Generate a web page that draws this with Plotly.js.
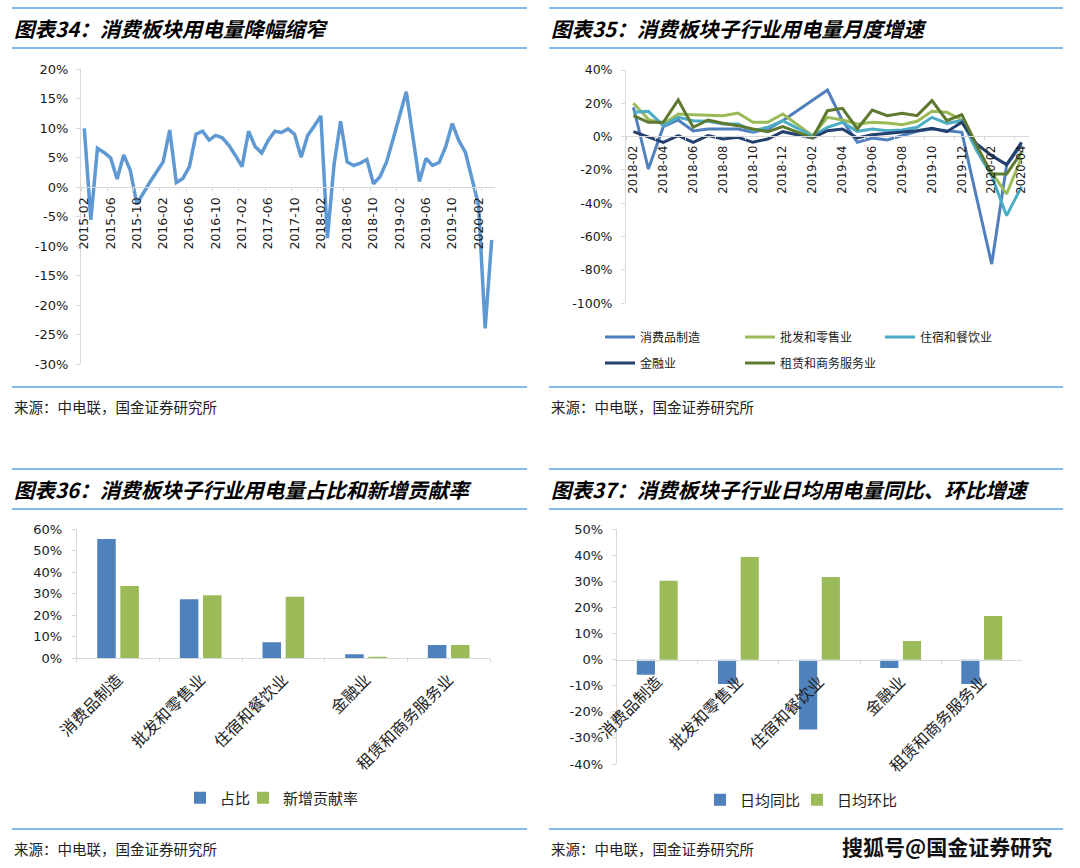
<!DOCTYPE html>
<html><head><meta charset="utf-8">
<script src="https://cdn.plot.ly/plotly-3.0.1.min.js"></script>
<style>html,body{margin:0;padding:0;background:#fff}#c{width:1080px;height:868px}</style>
</head><body><div id="c"></div><script>
// ---------- Panel 1: 消费板块用电量增速 ----------
const months1 = ['2015-02','2015-03','2015-04','2015-05','2015-06','2015-07','2015-08','2015-09','2015-10','2015-11','2015-12',
'2016-01','2016-02','2016-03','2016-04','2016-05','2016-06','2016-07','2016-08','2016-09','2016-10','2016-11','2016-12',
'2017-01','2017-02','2017-03','2017-04','2017-05','2017-06','2017-07','2017-08','2017-09','2017-10','2017-11','2017-12',
'2018-01','2018-02','2018-03','2018-04','2018-05','2018-06','2018-07','2018-08','2018-09','2018-10','2018-11','2018-12',
'2019-01','2019-02','2019-03','2019-04','2019-05','2019-06','2019-07','2019-08','2019-09','2019-10','2019-11','2019-12',
'2020-01','2020-02','2020-03','2020-04'];
const total1 = [10.0,-5.5,6.6,5.9,5.0,1.4,5.5,2.9,-2.8,-0.9,0.9,
2.6,4.3,9.7,0.8,1.5,3.5,9.0,9.5,8.0,8.8,8.4,7.1,
5.4,3.5,9.5,6.9,5.8,8.0,9.5,9.3,9.9,9.0,5.1,8.8,
10.4,12.1,-8.6,3.8,11.2,4.3,3.7,4.1,4.7,0.6,1.8,4.3,
8.2,12.4,16.2,8.6,1.0,4.9,3.7,4.2,6.9,10.8,7.9,5.9,
1.5,-3.0,-23.9,-8.9];
const ticks1x = ['2015-02','2015-06','2015-10','2016-02','2016-06','2016-10','2017-02','2017-06','2017-10',
'2018-02','2018-06','2018-10','2019-02','2019-06','2019-10','2020-02'];
const ticks1y = [20,15,10,5,0,-5,-10,-15,-20,-25,-30];

// ---------- Panel 2: 子行业用电量月度增速 ----------
const months2 = ['2018-02','2018-03','2018-04','2018-05','2018-06','2018-07','2018-08','2018-09','2018-10','2018-11','2018-12',
'2019-01','2019-02','2019-03','2019-04','2019-05','2019-06','2019-07','2019-08','2019-09','2019-10','2019-11','2019-12',
'2020-01','2020-02','2020-03','2020-04'];
const manu2   = [17.6,-19.4,6,10,3.4,4.6,4.6,4.6,2.6,4.6,9.6,null,null,28,9.6,-3.4,-0.8,-2,0.6,3.2,4.6,3.6,2.6,-37,-76.5,-17,-5];
const retail2 = [20,10.4,7.6,13.6,13.2,13,12.6,14.2,8.6,8.6,13.6,null,0.6,11.6,10,7.6,8.6,8.2,7.2,9.2,15.2,14.6,10,-7.4,-21.4,-34.4,-12.4];
const hotel2  = [14.6,15.2,6.6,11.6,9.6,9.2,7.6,7.6,3.6,5.6,9.6,null,0.4,5.6,8.6,3.2,4.6,3.6,4,5.6,11.6,8,9.6,-8.4,-23.4,-47.4,-30];
const fin2    = [3,0,-3.4,0.6,-3.4,0.6,-1.4,-0.4,-3.4,-1.4,3,null,-0.8,3.6,4.6,-0.8,1.2,2,3.2,3.6,5,3,8.6,-4.4,-11.4,-16.8,-3.4];
const lease2  = [12.6,8.6,8.6,22,5.6,10,8,6.6,4.6,3,6,null,-0.8,15.6,17,4.6,16,12.6,14,12.6,21.6,9.6,13.2,-5.4,-22.4,-22.4,-9.4];
const ticks2x = ['2018-02','2018-04','2018-06','2018-08','2018-10','2018-12','2019-02','2019-04','2019-06','2019-08',
'2019-10','2019-12','2020-02','2020-04'];
const ticks2y = [40,20,0,-20,-40,-60,-80,-100];
const names2 = ['消费品制造','批发和零售业','住宿和餐饮业','金融业','租赁和商务服务业'];

// ---------- Panel 3 / 4 ----------
const cats = ['消费品制造','批发和零售业','住宿和餐饮业','金融业','租赁和商务服务业'];
const share3 = [55.5,27.4,7.3,1.7,6.1];
const contrib3 = [33.6,29.2,28.6,0.6,6.1];
const ticks3y = [0,10,20,30,40,50,60];
const yoy4 = [-5.8,-9.3,-26.8,-3.2,-9.3];
const mom4 = [30.3,39.4,31.7,7.2,16.8];
const ticks4y = [50,40,30,20,10,0,-10,-20,-30,-40];

const NUM = 'DejaVu Sans';
const CJK = 'Noto Sans CJK SC';
const W = 1080, H = 868;
const px = x => x / W, py = y => 1 - y / H;
const pct = a => a.map(v => v + '%');

const base = {showline:true, linecolor:'#d9d9d9', linewidth:1, showgrid:false, zeroline:false,
  ticks:'outside', ticklen:4, tickcolor:'#d9d9d9', automargin:false, fixedrange:true};
const numFont = s => ({family:NUM, size:s, color:'#1a1a1a'});

const colors2 = ['#4F7FBC','#9BBB59','#4BACC6','#24406E','#5F7A30'];
const series2 = [manu2, retail2, hotel2, fin2, lease2];

const data = [];
data.push({type:'scatter', mode:'lines', x:months1, y:total1, xaxis:'x', yaxis:'y',
  line:{color:'#5F99D3', width:3.5}, showlegend:false, hoverinfo:'skip'});
series2.forEach((s,i) => data.push({type:'scatter', mode:'lines', name:names2[i], x:months2, y:s,
  xaxis:'x2', yaxis:'y2', connectgaps:true, line:{color:colors2[i], width:3},
  legend: i < 3 ? 'legend' : 'legend4', hoverinfo:'skip'}));
data.push({type:'bar', name:'占比', x:cats, y:share3, xaxis:'x3', yaxis:'y3',
  marker:{color:'#4F81BD'}, legend:'legend2', hoverinfo:'skip'});
data.push({type:'bar', name:'新增贡献率', x:cats, y:contrib3, xaxis:'x3', yaxis:'y3',
  marker:{color:'#9BBB59'}, legend:'legend5', hoverinfo:'skip'});
data.push({type:'bar', name:'日均同比', x:cats, y:yoy4, xaxis:'x4', yaxis:'y4',
  marker:{color:'#4F81BD'}, legend:'legend3', hoverinfo:'skip'});
data.push({type:'bar', name:'日均环比', x:cats, y:mom4, xaxis:'x4', yaxis:'y4',
  marker:{color:'#9BBB59'}, legend:'legend6', hoverinfo:'skip'});

const blue = '#5BA3E6';
const hl = (x0,x1,y) => ({type:'line', xref:'paper', yref:'paper', x0:px(x0), x1:px(x1), y0:py(y), y1:py(y),
  line:{color:blue, width:1.5}});
const shapes = [hl(12,527,8),hl(12,527,48),hl(549,1063,8),hl(549,1063,48),
  hl(12,527,387),hl(549,1063,387),
  hl(12,527,469),hl(12,527,509),hl(549,1063,469),hl(549,1063,509),
  hl(12,527,829),hl(549,1063,829)];

const ann = (text,x,y,size,extra) => Object.assign({text, xref:'paper', yref:'paper', x:px(x), y:py(y),
  xanchor:'left', yanchor:'middle', showarrow:false, font:{family:CJK, size, color:'#000'}}, extra||{});
const src = {font:{family:CJK,size:14.5,color:'#222'}};
const annotations = [
  ann('<b><i>图表34：消费板块用电量降幅缩窄</i></b>',12,28,20.5),
  ann('<b><i>图表35：消费板块子行业用电量月度增速</i></b>',549,28,20.5),
  ann('<b><i>图表36：消费板块子行业用电量占比和新增贡献率</i></b>',12,489,20.5),
  ann('<b><i>图表37：消费板块子行业日均用电量同比、环比增速</i></b>',549,489,20.5),
  ann('来源：中电联，国金证券研究所',12,406,14.5,src),
  ann('来源：中电联，国金证券研究所',549,406,14.5,src),
  ann('来源：中电联，国金证券研究所',12,848,14.5,src),
  ann('来源：中电联，国金证券研究所',549,848,14.5,src),
  ann('<b>搜狐号@国金证券研究</b>',840,846,21,{font:{family:CJK,size:21,color:'#111'}})
];

const legFont = s => ({family:CJK, size:s, color:'#222'});
const leg = (x,y,size,extra) => Object.assign({orientation:'h', x:px(x), xanchor:'left', y:py(y), yanchor:'middle',
  font:legFont(size), bgcolor:'rgba(0,0,0,0)'}, extra||{});
const layout = {
  width:W, height:H, margin:{l:0,r:0,t:0,b:0}, paper_bgcolor:'#fff', plot_bgcolor:'rgba(0,0,0,0)',
  barmode:'group', bargap:0.44, bargroupgap:0.2,
  xaxis:Object.assign({}, base, {domain:[px(81),px(495)], anchor:'free', position:py(187.3),
    type:'category', range:[-0.5,62.5], tickvals:ticks1x, ticktext:ticks1x, tickangle:-90, tickson:'boundaries',
    ticklen:3, ticklabelstandoff:4, tickfont:numFont(12.5)}),
  yaxis:Object.assign({}, base, {domain:[py(364.3),py(69.3)], anchor:'x', range:[-30,20],
    tickvals:ticks1y, ticktext:pct(ticks1y), ticklabelstandoff:5, tickfont:numFont(13)}),
  xaxis2:Object.assign({}, base, {domain:[px(626),px(1029)], anchor:'free', position:py(136),
    type:'category', range:[-0.5,26.5], tickvals:ticks2x, ticktext:ticks2x, tickangle:-90, tickson:'boundaries',
    ticklen:3, ticklabelstandoff:4, tickfont:numFont(11.5)}),
  yaxis2:Object.assign({}, base, {domain:[py(303.3),py(70)], anchor:'x2', range:[-100,40],
    tickvals:ticks2y, ticktext:pct(ticks2y), ticklabelstandoff:6, tickfont:numFont(12.5)}),
  xaxis3:Object.assign({}, base, {domain:[px(76.7),px(490)], anchor:'y3', type:'category',
    tickangle:-45, tickson:'boundaries', ticklen:3, ticklabelstandoff:5, tickfont:legFont(16)}),
  yaxis3:Object.assign({}, base, {domain:[py(658),py(529.3)], anchor:'x3', range:[0,60],
    tickvals:ticks3y, ticktext:pct(ticks3y), ticklabelstandoff:7, tickfont:numFont(13)}),
  xaxis4:Object.assign({}, base, {domain:[px(616.7),px(1022.3)], anchor:'free', position:py(660), type:'category',
    tickangle:-45, tickson:'boundaries', ticklen:3, ticklabelstandoff:5, tickfont:legFont(16)}),
  yaxis4:Object.assign({}, base, {domain:[py(764),py(529.3)], anchor:'x4', range:[-40,50],
    tickvals:ticks4y, ticktext:pct(ticks4y), ticklabelstandoff:6, tickfont:numFont(13)}),
  legend:leg(600,337,12,{entrywidth:95}),
  legend4:leg(600,363,12,{entrywidth:95}),
  legend2:leg(180,798,15),
  legend5:leg(243,798,15),
  legend3:leg(700,800,15),
  legend6:leg(797,800,15),
  shapes, annotations
};
Plotly.newPlot('c', data, layout, {displayModeBar:false, staticPlot:true});
</script></body></html>
